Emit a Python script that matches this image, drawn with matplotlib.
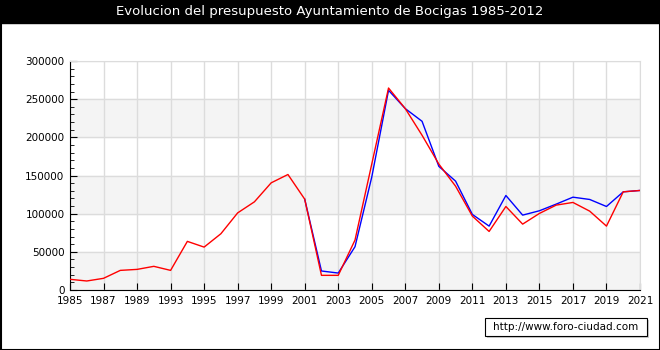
"""Evolucion del presupuesto - Bocigas"""

import matplotlib.pyplot as plt
from matplotlib.patches import Rectangle

years = [1985, 1986, 1987, 1988, 1989, 1992, 1993, 1994, 1995, 1996, 1997, 1998,
         1999, 2000, 2001, 2002, 2003, 2004, 2005, 2006, 2007, 2008, 2009, 2010,
         2011, 2012, 2013, 2014, 2015, 2016, 2017, 2018, 2019, 2020, 2021]

ingresos = [14000, 11800, 15300, 25700, 27000, 31000, 25700, 63700, 56200, 73700,
            101000, 115500, 140400, 151300, 119000, 19200, 19200, 65400, 165000,
            264600, 237600, 202700, 165000, 136000, 96800, 76700, 109400, 86300,
            100300, 111200, 114700, 103300, 83700, 128600, 130400]

# blue series starts in 2001
gastos_start = 14
gastos = [119000, 24900, 22200, 56700, 148000, 261600, 237600, 221000, 162000,
          142600, 99000, 83700, 123800, 98100, 103800, 112500, 121600, 118600,
          109400, 128600, 130400]

fig = plt.figure(figsize=(6.6, 3.5), dpi=100)
ax = fig.add_axes([70 / 660, 60 / 350, 570 / 660, 229 / 350])

n = len(years)
ax.set_xlim(0, n - 1)
ax.set_ylim(0, 300000)

for lo in (0, 100000, 200000):
    ax.axhspan(lo, lo + 50000, color="#f4f4f4", zorder=0)

ax.plot(range(gastos_start, gastos_start + len(gastos)), gastos, color="#0000ff", lw=1, zorder=3)
ax.plot(range(n), ingresos, color="#ff0000", lw=1, zorder=4)

ax.set_xticks(range(0, n, 2))
ax.set_xticklabels([str(y) for y in years[::2]])
ax.set_yticks(range(0, 300001, 50000))
ax.set_yticklabels([str(v) for v in range(0, 300001, 50000)])
ax.set_yticks(range(0, 300001, 10000), minor=True)
ax.grid(True, color="#dcdcdc", lw=1, zorder=1)
ax.set_axisbelow(True)
ax.tick_params(axis="both", which="major", direction="in", length=5, labelsize=7.5, pad=4)
ax.tick_params(axis="y", which="minor", direction="in", length=3)
for s in ("top", "right"):
    ax.spines[s].set_color("#dcdcdc")
for s in ("left", "bottom"):
    ax.spines[s].set_color("black")

# title bar
fig.patches.append(Rectangle((0, 1 - 23 / 350), 1, 23 / 350, transform=fig.transFigure,
                             color="black", zorder=0))
fig.text(0.5, 1 - 12 / 350, "Evolucion del presupuesto Ayuntamiento de Bocigas 1985-2012",
         color="white", ha="center", va="center", fontsize=9.5)
fig.patches.append(Rectangle((0.5 / 660, 0.5 / 350), 659 / 660, 349 / 350, transform=fig.transFigure,
                             fill=False, edgecolor="black", lw=1.5))

# watermark
fig.patches.append(Rectangle((487 / 660, 12 / 350), 162 / 660, 18 / 350, transform=fig.transFigure,
                             facecolor="#cccccc", edgecolor="none"))
fig.patches.append(Rectangle((485 / 660, 14 / 350), 162 / 660, 18 / 350, transform=fig.transFigure,
                             facecolor="white", edgecolor="black", lw=0.8))
fig.text(566 / 660, 23 / 350, "http://www.foro-ciudad.com", ha="center", va="center", fontsize=7.5)

fig.savefig("out.png")
